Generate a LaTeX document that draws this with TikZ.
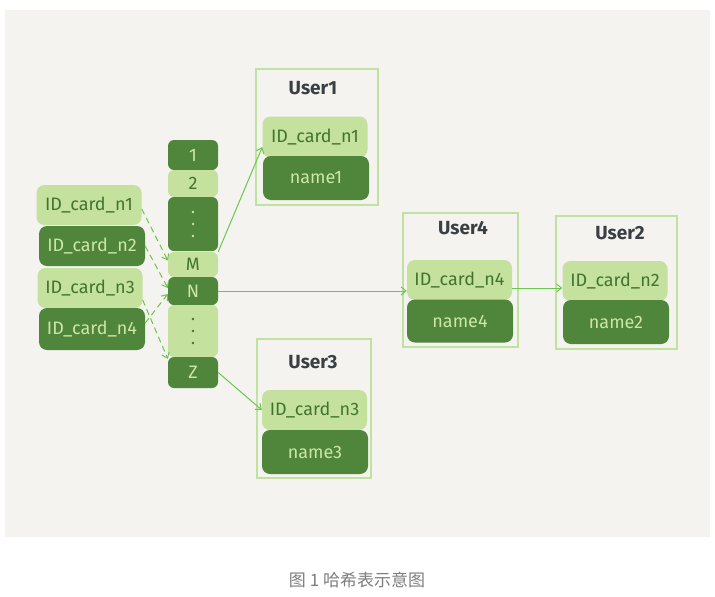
\documentclass[tikz,border=0pt]{standalone}
\usepackage{fontspec}
\setmainfont{Fira Sans}
\newfontfamily\cjkfont{Noto Sans CJK SC}
\usetikzlibrary{arrows.meta, positioning}
\definecolor{bgpaper}{RGB}{244, 243, 239}
\definecolor{keylight}{RGB}{197, 225, 158}
\definecolor{keydark}{RGB}{80, 133, 60}
\definecolor{textdark}{RGB}{66, 116, 48}
\definecolor{textlight}{RGB}{204, 230, 166}
\definecolor{boxline}{RGB}{192, 226, 160}
\definecolor{arrowgreen}{RGB}{108, 198, 78}
\definecolor{titlegray}{RGB}{58, 63, 68}
\definecolor{captiongray}{RGB}{125, 125, 125}
\tikzstyle{lightcell} = [rectangle, fill=keylight, text=textdark, rounded corners=8pt, minimum width=105pt, minimum height=40pt, inner sep=0pt, font=\fontsize{18}{18}\selectfont]
\tikzstyle{darkcell} = [rectangle, fill=keydark, text=textlight, rounded corners=8pt, minimum width=106pt, minimum height=43pt, inner sep=0pt, font=\fontsize{18}{18}\selectfont]
\tikzstyle{bucketlight} = [rectangle, fill=keylight, text=textdark, rounded corners=6pt, minimum width=50pt, inner sep=0pt, font=\fontsize{18}{18}\selectfont]
\tikzstyle{bucketdark} = [rectangle, fill=keydark, text=textlight, rounded corners=6pt, minimum width=50pt, inner sep=0pt, font=\fontsize{18}{18}\selectfont]
\tikzstyle{userbox} = [rectangle, draw=boxline, line width=1.2pt, inner sep=0pt]
\tikzstyle{usertitle} = [text=titlegray, font=\fontsize{19}{19}\selectfont\bfseries]
\tikzstyle{arrow} = [-{Straight Barb[length=5pt, width=8pt]}, draw=arrowgreen, line width=1pt]
\tikzstyle{dasharrow} = [arrow, dashed, dash pattern=on 6pt off 4pt]

\begin{document}
\begin{tikzpicture}[x=1pt, y=-1pt]
    \useasboundingbox (0, 0) rectangle (715, 597);
    % Paper
    \fill[bgpaper] (5, 10) rectangle (710, 537);

    % Keys
    \node[lightcell] (k1) at (89, 205) {ID\_card\_n1};
    \node[darkcell, minimum height=40pt] (k2) at (92, 246) {ID\_card\_n2};
    \node[lightcell] (k3) at (90, 288) {ID\_card\_n3};
    \node[darkcell, minimum height=42pt] (k4) at (92, 329) {ID\_card\_n4};

    % Buckets
    \node[bucketdark, minimum height=30pt] (b1) at (193, 155) {1};
    \node[bucketlight, minimum height=27pt] (b2) at (193, 183.5) {2};
    \node[bucketdark, minimum height=54pt] (bd1) at (193, 224) {};
    \node[bucketlight, minimum height=25pt] (bM) at (193, 264.5) {M};
    \node[bucketdark, minimum height=28pt] (bN) at (193, 291) {N};
    \node[bucketlight, minimum height=52pt] (bd2) at (193, 331) {};
    \node[bucketdark, minimum height=31pt] (bZ) at (193, 372.5) {Z};
    \foreach \dy in {-12, 0, 12} {
        \fill[textlight] ([yshift=\dy pt]bd1.center) circle (1.3pt);
        \fill[textdark] ([yshift=\dy pt]bd2.center) circle (1.3pt);
    }

    % User1
    \node[userbox, minimum width=122pt, minimum height=136pt] (u1) at (317, 137) {};
    \node[usertitle] (t1) at (313, 88) {User1};
    \node[lightcell, minimum height=41pt] (id1) at (315, 137) {ID\_card\_n1};
    \node[darkcell, minimum height=44pt] (nm1) at (316, 178) {name1};

    % User4
    \node[userbox, minimum width=115pt, minimum height=134pt] (u4) at (460.5, 280) {};
    \node[usertitle] (t4) at (463, 228) {User4};
    \node[lightcell] (id4) at (459.5, 280) {ID\_card\_n4};
    \node[darkcell] (nm4) at (460, 321) {name4};

    % User2
    \node[userbox, minimum width=121pt, minimum height=133pt] (u2) at (616.5, 282.5) {};
    \node[usertitle] (t2) at (620, 233) {User2};
    \node[lightcell] (id2) at (615, 281) {ID\_card\_n2};
    \node[darkcell, minimum height=44pt] (nm2) at (616, 322) {name2};

    % User3
    \node[userbox, minimum width=114pt, minimum height=139pt] (u3) at (314, 408.5) {};
    \node[usertitle] (t3) at (313, 362) {User3};
    \node[lightcell] (id3) at (314.5, 410) {ID\_card\_n3};
    \node[darkcell, minimum height=44pt] (nm3) at (315, 452) {name3};

    % Caption
    \node[text=captiongray, font=\cjkfont\fontsize{17}{17}\selectfont] (cap) at (357, 580) {图 1 哈希表示意图};

    % Hashing
    \draw[dasharrow] ([yshift=-4pt]k1.east) -- ([yshift=4pt]bM.west);
    \draw[dasharrow] (k2.east) -- ([yshift=3pt]bN.west);
    \draw[dasharrow] ([yshift=-12pt]k3.east) -- ([yshift=-2pt]bZ.north west);
    \draw[dasharrow] ([yshift=6pt]k4.east) -- ([yshift=-3pt]bN.west);

    % Chains
    \draw[arrow] (bM.north east) -- ([yshift=-10pt]id1.west);
    \draw[arrow] (bN.east) -- (bN.east -| id4.west);
    \draw[arrow] (bZ.east) -- (id3.west);
    \draw[arrow] ([yshift=-8pt]id4.east) -- ([yshift=-8pt]id4.east -| id2.west);
\end{tikzpicture}
\end{document}
